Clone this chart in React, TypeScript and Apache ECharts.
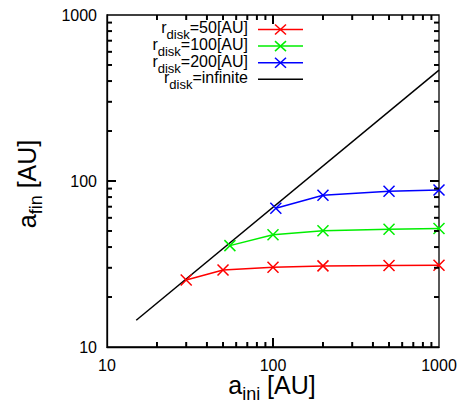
import React, { useEffect, useRef } from "react";
import * as echarts from "echarts";

const xs50 = [30, 50, 100, 200, 500, 1000];
const ys50 = [25.3, 29.1, 30.2, 30.8, 31.0, 31.1];
const xs100 = [55, 100, 200, 500, 1000];
const ys100 = [40.8, 47.5, 50.2, 51.2, 51.8];
const xs200 = [104, 200, 500, 1000];
const ys200 = [68.5, 82, 86.7, 88.3];
const xsInf = [15, 1000];
const ysInf = [14.5, 466];

const seriesNames = ["r50", "r100", "r200", "rinf"];
const legendMain = ["=50[AU]", "=100[AU]", "=200[AU]", "=infinite"];
const colors = ["#ff0000", "#00ee00", "#0000ff", "#000000"];
const tickValues = [20, 30, 40, 50, 60, 70, 80, 90, 100, 200, 300, 400, 500, 600, 700, 800, 900];
const axisMin = 10;
const axisMax = 1000;

const FONT = "Liberation Sans, Arial, Helvetica, sans-serif";
const XSYM = "path://M0,0L10,10M10,0L0,10";

function zip(a: number[], b: number[]) {
  return a.map((v, i) => [v, b[i]]);
}

let measureCtx: CanvasRenderingContext2D | null = null;
function textWidth(s: string, size: number) {
  if (!measureCtx) measureCtx = document.createElement("canvas").getContext("2d");
  measureCtx!.font = `${size}px "Liberation Sans", Arial, sans-serif`;
  return measureCtx!.measureText(s).width;
}

function txt(s: string, x: number, baseline: number, size: number) {
  return {
    type: "text",
    silent: true,
    style: {
      text: s,
      x,
      y: baseline - 0.35 * size,
      fontSize: size,
      fontFamily: FONT,
      fill: "#000",
      align: "left",
      verticalAlign: "middle",
    },
  };
}

function subText(base: string, sub: string, rest: string, F: number, S: number, xStart: number, baseline: number, drop: number) {
  const wb = textWidth(base, F);
  const ws = textWidth(sub, S);
  return [
    txt(base, xStart, baseline, F),
    txt(sub, xStart + wb, baseline + drop, S),
    txt(rest, xStart + wb + ws, baseline, F),
  ];
}
function subWidth(base: string, sub: string, rest: string, F: number, S: number) {
  return textWidth(base, F) + textWidth(sub, S) + textWidth(rest, F);
}

export default function App() {
  const ref = useRef<HTMLDivElement>(null);
  useEffect(() => {
    const chart = echarts.init(ref.current!, null, { renderer: "svg" });
    const axisCommon = {
      type: "log" as const,
      logBase: 10,
      min: axisMin,
      max: axisMax,
      axisLine: { show: true, lineStyle: { color: "#000", width: 1.3 } },
      axisTick: { show: false },
      splitLine: { show: false },
      minorTick: { show: false },
    };
    const dataSets = [zip(xs50, ys50), zip(xs100, ys100), zip(xs200, ys200), zip(xsInf, ysInf)];

    const graphics: any[] = [];
    const LF = 16, LS = 13;
    seriesNames.forEach((n, i) => {
      const ly = 29.5 + i * 16.6;
      const w = subWidth("r", "disk", legendMain[i], LF, LS);
      graphics.push(...subText("r", "disk", legendMain[i], LF, LS, 248 - w, ly + 4, 6));
      graphics.push({
        type: "line",
        silent: true,
        shape: { x1: 258, y1: ly, x2: 303, y2: ly },
        style: { stroke: colors[i], lineWidth: 1.5 },
      });
      if (i < 3) {
        const cx = 280.5;
        graphics.push({
          type: "line",
          silent: true,
          shape: { x1: cx - 5.5, y1: ly - 5, x2: cx + 5.5, y2: ly + 5 },
          style: { stroke: colors[i], lineWidth: 1.5 },
        });
        graphics.push({
          type: "line",
          silent: true,
          shape: { x1: cx - 5.5, y1: ly + 5, x2: cx + 5.5, y2: ly - 5 },
          style: { stroke: colors[i], lineWidth: 1.5 },
        });
      }
    });
    const TF = 25, TS = 18;
    const wx = subWidth("a", "ini", " [AU]", TF, TS);
    graphics.push(...subText("a", "ini", " [AU]", TF, TS, 272 - wx / 2, 393.5, 6.5));
    const wy = subWidth("a", "fin", " [AU]", TF, TS);
    graphics.push({
      type: "group",
      x: 36,
      y: 184,
      rotation: Math.PI / 2,
      silent: true,
      children: subText("a", "fin", " [AU]", TF, TS, -wy / 2, 0, 6.5),
    });

    const option: any = {
      animation: false,
      backgroundColor: "#fff",
      grid: {
        left: 107,
        right: 26,
        top: 15,
        bottom: 56,
        outerBoundsMode: "none",
        containLabel: false,
        show: true,
        borderColor: "#000",
        borderWidth: 1.3,
        backgroundColor: "transparent",
      },
      xAxis: {
        ...axisCommon,
        position: "bottom",
        axisLabel: { fontSize: 16, color: "#000", fontFamily: FONT, margin: 10, formatter: (v: number) => String(v) },
      },
      yAxis: {
        ...axisCommon,
        position: "left",
        axisLabel: { fontSize: 16, color: "#000", fontFamily: FONT, margin: 10, formatter: (v: number) => String(v) },
      },
      graphic: graphics,
      series: [
        ...seriesNames.map((n, i) => ({
          name: n,
          type: "line",
          data: dataSets[i],
          symbol: i < 3 ? XSYM : "none",
          symbolSize: 11,
          showSymbol: i < 3,
          lineStyle: { color: colors[i], width: 1.5 },
          itemStyle: { color: colors[i], borderColor: colors[i], borderWidth: 1.5 },
          z: i === 3 ? 1 : 2,
        })),
        {
          name: "ticks",
          type: "custom",
          silent: true,
          clip: false,
          z: 5,
          data: tickValues.map((v) => [v, v]),
          encode: { x: 0, y: 1 },
          renderItem: (params: any, api: any) => {
            const v = api.value(0);
            const major = Math.abs(Math.log10(v) - Math.round(Math.log10(v))) < 1e-9;
            const len = major ? 9 : 5;
            const b = api.coord([v, axisMin]);
            const t = api.coord([v, axisMax]);
            const l = api.coord([axisMin, v]);
            const r = api.coord([axisMax, v]);
            const mk = (x1: number, y1: number, x2: number, y2: number) => ({
              type: "line",
              z2: 100,
              shape: { x1, y1, x2, y2 },
              style: { stroke: "#000000", lineWidth: 2, fill: "none", opacity: 1 },
            });
            return {
              type: "group",
              children: [
                mk(b[0], b[1], b[0], b[1] - len),
                mk(t[0], t[1], t[0], t[1] + len),
                mk(l[0], l[1], l[0] + len, l[1]),
                mk(r[0], r[1], r[0] - len, r[1]),
              ],
            };
          },
        },
      ],
    };
    chart.setOption(option);

    return () => chart.dispose();
  }, []);
  return <div ref={ref} style={{ width: 465, height: 403, position: "absolute", left: 0, top: 0 }} />;
}
